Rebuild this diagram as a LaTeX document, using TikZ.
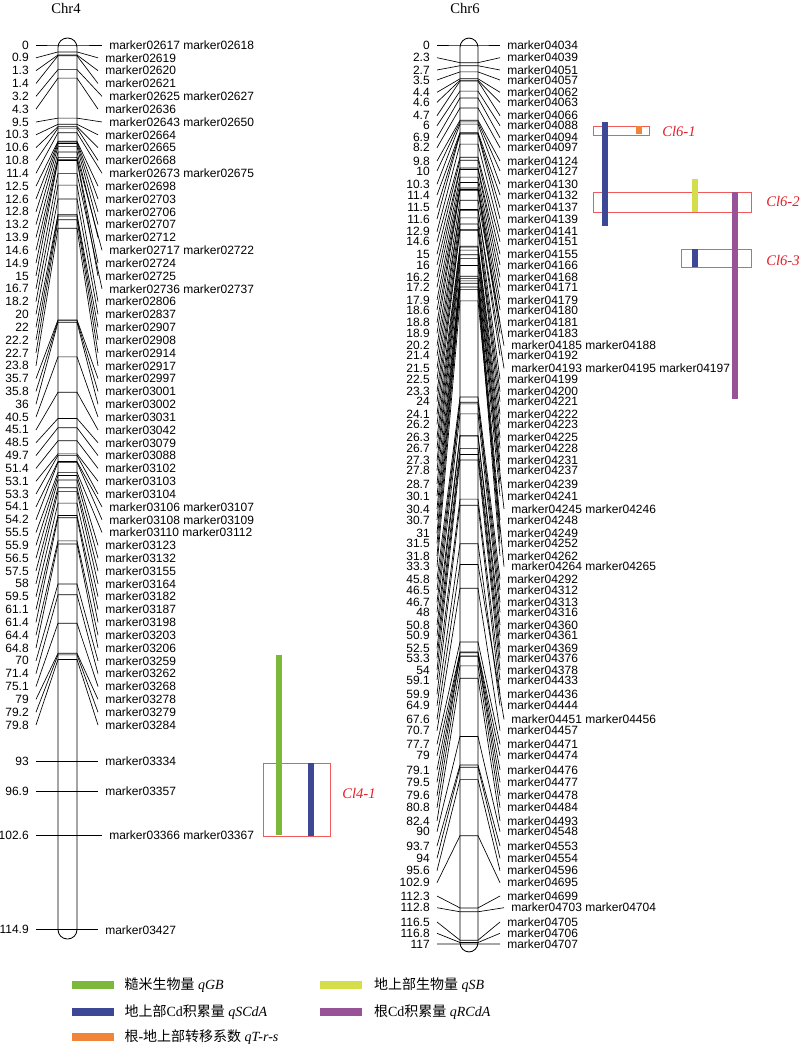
\documentclass[tikz,border=0pt]{standalone}
\usepackage{fontspec}
\setmainfont{Liberation Serif}
\setsansfont{Liberation Sans}
\newfontfamily\cjk{Noto Sans CJK SC}
\usepackage{xcolor}
\usetikzlibrary{positioning,calc}

\definecolor{qgb}{RGB}{124,184,58}
\definecolor{qscda}{RGB}{60,72,150}
\definecolor{qtrs}{RGB}{240,132,56}
\definecolor{qsb}{RGB}{212,222,74}
\definecolor{qrcda}{RGB}{152,82,150}
\definecolor{boxred}{RGB}{240,90,90}
\definecolor{labred}{RGB}{230,30,40}

\tikzset{
  num/.style={anchor=east,inner xsep=5.25pt,inner ysep=0pt,font=\sffamily\fontsize{9}{10}\selectfont},
  mk/.style={anchor=west,inner xsep=5.25pt,inner ysep=0pt,font=\sffamily\fontsize{9}{10}\selectfont},
  link/.style={draw=black,line width=0.5pt},
  chrom/.style={draw=black,line width=0.65pt,rounded corners=7pt},
  clbox/.style={draw=boxred,line width=0.6pt},
  cllab/.style={anchor=west,inner sep=0pt,text=labred,font=\itshape\fontsize{11}{12}\selectfont},
  swatch/.style={minimum width=31.5pt,minimum height=6pt,inner sep=0pt},
  legtxt/.style={inner sep=0pt,font=\fontsize{10.5}{12}\selectfont}
}

\begin{document}
\begin{tikzpicture}[x=0.75pt,y=-0.75pt]
\useasboundingbox (0,0) rectangle (800,1044);

\node[font=\fontsize{11}{12}\selectfont] (t4) at (66,8) {Chr4};
\node[font=\fontsize{11}{12}\selectfont] (t6) at (465,8) {Chr6};

% Chr4
\foreach \cm/\mk/\dx [count=\i] in {
 0/{marker02617 marker02618}/1, 0.9/marker02619/0, 1.3/marker02620/0, 1.4/marker02621/0,
 3.2/{marker02625 marker02627}/1, 4.3/marker02636/0, 9.5/{marker02643 marker02650}/1,
 10.3/marker02664/0, 10.6/marker02665/0, 10.8/marker02668/0, 11.4/{marker02673 marker02675}/1,
 12.5/marker02698/0, 12.6/marker02703/0, 12.8/marker02706/0, 13.2/marker02707/0,
 13.9/marker02712/0, 14.6/{marker02717 marker02722}/1, 14.9/marker02724/0, 15/marker02725/0,
 16.7/{marker02736 marker02737}/1, 18.2/marker02806/0, 20/marker02837/0, 22/marker02907/0,
 22.2/marker02908/0, 22.7/marker02914/0, 23.8/marker02917/0, 35.7/marker02997/0,
 35.8/marker03001/0, 36/marker03002/0, 40.5/marker03031/0, 45.1/marker03042/0,
 48.5/marker03079/0, 49.7/marker03088/0, 51.4/marker03102/0, 53.1/marker03103/0,
 53.3/marker03104/0, 54.1/{marker03106 marker03107}/1, 54.2/{marker03108 marker03109}/1,
 55.5/{marker03110 marker03112}/1, 55.9/marker03123/0, 56.5/marker03132/0, 57.5/marker03155/0,
 58/marker03164/0, 59.5/marker03182/0, 61.1/marker03187/0, 61.4/marker03198/0,
 64.4/marker03203/0, 64.8/marker03206/0, 70/marker03259/0, 71.4/marker03262/0,
 75.1/marker03268/0, 79/marker03278/0, 79.2/marker03279/0, 79.8/marker03284/0}
{
  \pgfmathsetmacro\ly{45+12.83*(\i-1)}
  \pgfmathsetmacro\py{45+7.70*\cm}
  \node[num] (n4-\i) at (36,\ly) {\cm};
  \node[mk] (m4-\i) at (98+4*\dx,\ly) {\mk};
  \draw[link] (n4-\i.east) -- (58,\py) -- (77,\py) -- (m4-\i.west);
}
\foreach \cm/\mk/\dx [count=\i from 55] in {
 93/marker03334/0, 96.9/marker03357/0, 102.6/{marker03366 marker03367}/1, 114.9/marker03427/0}
{
  \pgfmathsetmacro\py{45+7.70*\cm}
  \node[num] (n4-\i) at (36,\py) {\cm};
  \node[mk] (m4-\i) at (98+4*\dx,\py) {\mk};
  \draw[link] (n4-\i.east) -- (58,\py) -- (77,\py) -- (m4-\i.west);
}
\draw[chrom] (58,38) rectangle (77,939);

% Chr6
\foreach \cm/\ly/\mk/\dx [count=\i] in {
 0/45/marker04034/0, 2.3/57.7/marker04039/0, 2.7/70/marker04051/0, 3.5/80/marker04057/0,
 4.4/92.3/marker04062/0, 4.6/102.3/marker04063/0, 4.7/115.7/marker04066/0, 6/125.7/marker04088/0,
 6.9/137.7/marker04094/0, 8.2/147.7/marker04097/0, 9.8/161/marker04124/0, 10/171/marker04127/0,
 10.3/184.3/marker04130/0, 11.4/195/marker04132/0, 11.5/207.7/marker04137/0, 11.6/219/marker04139/0,
 12.9/231.7/marker04141/0, 14.6/241.7/marker04151/0, 15/254.3/marker04155/0, 16/265/marker04166/0,
 16.2/277.3/marker04168/0, 17.2/287.3/marker04171/0, 17.9/300/marker04179/0, 18.6/310/marker04180/0,
 18.8/322.7/marker04181/0, 18.9/333.3/marker04183/0, 20.2/345.7/{marker04185 marker04188}/1,
 21.4/355.7/marker04192/0, 21.5/368.3/{marker04193 marker04195 marker04197}/1,
 22.5/379.3/marker04199/0, 23.3/391.7/marker04200/0, 24/401.7/marker04221/0, 24.1/414.3/marker04222/0,
 26.2/424.3/marker04223/0, 26.3/437.7/marker04225/0, 26.7/448.3/marker04228/0, 27.3/460.7/marker04231/0,
 27.8/470.7/marker04237/0, 28.7/484/marker04239/0, 30.1/496/marker04241/0,
 30.4/509/{marker04245 marker04246}/1, 30.7/520/marker04248/0, 31/533.3/marker04249/0,
 31.5/543.3/marker04252/0, 31.8/556/marker04262/0, 33.3/566.7/{marker04264 marker04265}/1,
 45.8/579.3/marker04292/0, 46.5/590/marker04312/0, 46.7/602.3/marker04313/0, 48/612.3/marker04316/0,
 50.8/625/marker04360/0, 50.9/635.7/marker04361/0, 52.5/648.3/marker04369/0, 53.3/658.3/marker04376/0,
 54/670/marker04378/0, 59.1/680/marker04433/0, 59.9/694.3/marker04436/0, 64.9/705.7/marker04444/0,
 67.6/719.3/{marker04451 marker04456}/1, 70.7/730.7/marker04457/0, 77.7/744.3/marker04471/0,
 79/755.7/marker04474/0, 79.1/770/marker04476/0, 79.5/782.3/marker04477/0, 79.6/795.7/marker04478/0,
 80.8/807.7/marker04484/0, 82.4/821/marker04493/0, 90/831.7/marker04548/0, 93.7/846/marker04553/0,
 94/858.3/marker04554/0, 95.6/870.7/marker04596/0, 102.9/882.7/marker04695/0, 112.3/896/marker04699/0,
 112.8/907.7/{marker04703 marker04704}/1, 116.5/922/marker04705/0, 116.8/933.3/marker04706/0,
 117/944/marker04707/0}
{
  \pgfmathsetmacro\py{45+7.684*\cm}
  \node[num] (n6-\i) at (437,\ly) {\cm};
  \node[mk] (m6-\i) at (500+4*\dx,\ly) {\mk};
  \draw[link] (n6-\i.east) -- (460,\py) -- (478,\py) -- (m6-\i.west);
}
\draw[chrom] (460,38) rectangle (478,952);

% QTL boxes and bars
\draw[clbox] (263,763) rectangle (330,836);
\fill[qgb] (276,655) rectangle (282,835);
\fill[qscda] (308,763) rectangle (314,836);
\node[cllab] (c41) at (342,793) {Cl4-1};

\draw[clbox] (593,126) rectangle (649,135);
\draw[clbox] (593,192) rectangle (751,212);
\draw[clbox] (681,249) rectangle (751,267);
\fill[qscda] (602,122) rectangle (607.5,226);
\fill[qtrs] (636,126.5) rectangle (642,134.5);
\fill[qsb] (692,179) rectangle (698,212);
\fill[qrcda] (732,192) rectangle (737.5,399);
\fill[qscda] (692,249) rectangle (698,267);
\node[cllab] (c61) at (662,131) {Cl6-1};
\node[cllab] (c62) at (766,201) {Cl6-2};
\node[cllab] (c63) at (766,260) {Cl6-3};

% legend
\node[swatch,fill=qgb] (s1) at (93,985) {};
\node[swatch,fill=qscda] (s2) at (93,1011.7) {};
\node[swatch,fill=qtrs] (s3) at (93,1036.7) {};
\node[swatch,fill=qsb] (s4) at (340.5,985) {};
\node[swatch,fill=qrcda] (s5) at (340.5,1011.7) {};
\node[legtxt,right=7.5pt of s1] (l1) {{\cjk 糙米生物量} \textit{qGB}};
\node[legtxt,right=7.5pt of s2] (l2) {{\cjk 地上部}Cd{\cjk 积累量} \textit{qSCdA}};
\node[legtxt,right=7.5pt of s3] (l3) {{\cjk 根}-{\cjk 地上部转移系数} \textit{qT-r-s}};
\node[legtxt,right=9pt of s4] (l4) {{\cjk 地上部生物量} \textit{qSB}};
\node[legtxt,right=9pt of s5] (l5) {{\cjk 根}Cd{\cjk 积累量} \textit{qRCdA}};

\end{tikzpicture}
\end{document}
